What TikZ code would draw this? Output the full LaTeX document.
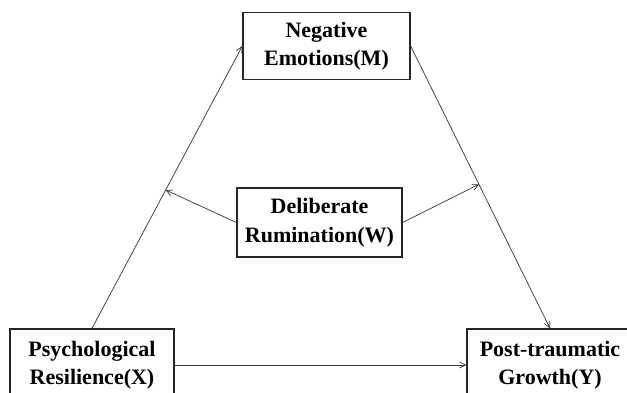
\documentclass[tikz,border=0pt]{standalone}
\usepackage{fontspec}
\setmainfont{Liberation Serif}
\usetikzlibrary{arrows.meta}
\begin{document}
\begin{tikzpicture}[x=1pt,y=-1pt,
  varbox/.style={draw=black!85,line width=1.3pt,fill=white,align=center,
    font=\fontsize{22}{28.5}\selectfont\bfseries,inner sep=0pt},
  link/.style={draw=black!80,line width=0.7pt,-{Straight Barb[length=6pt,width=6pt]}}]
\useasboundingbox (0,0) rectangle (627,393);
\clip (0,0) rectangle (627,393);
\node[varbox,minimum width=167pt,minimum height=67pt] (M) at (326.5,46) {Negative\\Emotions(M)};
\node[varbox,minimum width=165pt,minimum height=69pt] (W) at (319.5,222.5) {Deliberate\\Rumination(W)};
\node[varbox,minimum width=164pt,minimum height=72pt] (X) at (92,365) {Psychological\\Resilience(X)};
\node[varbox,minimum width=166pt,minimum height=72pt] (Y) at (550,365) {Post-traumatic\\Growth(Y)};
\draw[link] (X.north) -- (M.west) coordinate[pos=0.49] (a);
\draw[link] (M.east) -- (Y.north) coordinate[pos=0.49] (b);
\draw[link] (X.east) -- (Y.west);
\draw[link] (W.west) -- (a);
\draw[link] (W.east) -- (b);
\end{tikzpicture}
\end{document}
